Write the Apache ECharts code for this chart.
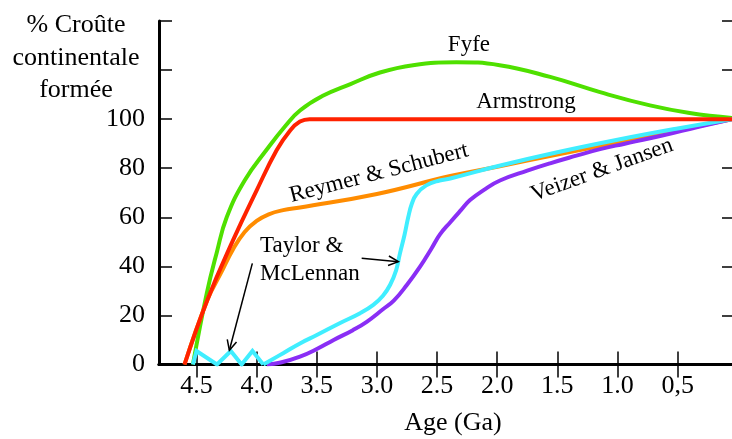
<!DOCTYPE html>
<html><head><meta charset="utf-8">
<script src="https://cdn.jsdelivr.net/npm/echarts@6/dist/echarts.min.js"></script>
<style>html,body{margin:0;padding:0;background:#fff}#c{width:732px;height:439px}</style>
</head><body><div id="c"></div>
<script>
// Tick positions and labels
const xTicks = [0.5, 1.0, 1.5, 2.0, 2.5, 3.0, 3.5, 4.0, 4.5];
const xTickLabels = ['0,5', '1.0', '1.5', '2.0', '2.5', '3.0', '3.5', '4.0', '4.5'];
const yTickLabels = [0, 20, 40, 60, 80, 100];

// Series: [age (Ga), % continental crust formed]
const fyfe = [[4.53,0],[4.415,29],[4.33,46],[4.249,60],[4.1,75],[3.916,87.6],[3.76,97.3],[3.64,103.5],[3.45,109.5],[3.22,114.3],[2.975,119],[2.7,122],[2.34,123.2],[1.98,122],[1.56,117.2],[1.145,111],[0.73,105.6],[0.4,102.5],[0.048,100.5]];
const armstrong = [[4.60,0],[4.41,26.3],[4.196,50.7],[4.0,71],[3.833,87.4],[3.72,95.5],[3.64,99],[3.56,100],[3.0,100],[2.0,100],[1.0,100],[0.048,100]];
const reymerSchubert = [[4.60,0],[4.41,26.3],[4.30,37],[4.196,47],[4.1,54],[4.0,58.5],[3.9,61.2],[3.78,62.9],[3.64,64],[3.0,69.5],[2.39,76.8],[2.0,80.6],[1.5,85.6],[1.0,90.5],[0.5,95.4],[0.048,100]];
const taylorZigzag = [[4.53,0],[4.50,5.5],[4.33,0],[4.215,5.5],[4.125,0],[4.035,5.5],[3.945,0]];
const taylorMcLennan = [[3.945,0],[3.78,4.6],[3.64,8.6],[3.5,12],[3.31,16.8],[3.14,20.9],[3.03,24.3],[2.95,28],[2.89,32.5],[2.84,38.5],[2.81,45],[2.77,53],[2.74,60],[2.71,65.5],[2.67,69.5],[2.59,73],[2.48,75],[2.39,75.8],[2.0,80.8],[1.5,86.5],[1.0,91.6],[0.5,96.2],[0.048,100]];
const veizerJansen = [[3.916,0],[3.8,0.8],[3.64,3.2],[3.5,6.3],[3.36,10],[3.2,14],[3.085,17.4],[2.95,22.5],[2.86,26],[2.75,32.5],[2.64,40],[2.55,47],[2.476,53],[2.39,58],[2.3,63],[2.226,67],[2.1,71.5],[1.977,75],[1.75,79],[1.56,82],[1.35,85],[1.145,87.8],[0.94,90],[0.73,92.2],[0.4,96],[0.048,100]];

const colors = {fyfe:'#4fe000', armstrong:'#ff2200', reymer:'#ff8c00', taylor:'#40eeff', veizer:'#8a2ef5'};
const FONT = 'Liberation Serif';

const chart = echarts.init(document.getElementById('c'), null, {renderer:'canvas'});
function line(name, data, color, z){
  return {type:'line', name, data, smooth:0.45, showSymbol:false, symbol:'none',
    lineStyle:{color, width:4}, z, xAxisIndex:0, yAxisIndex:0};
}
const axisLineStyle = {color:'#000', width:3};
chart.setOption({
  animation:false,
  backgroundColor:'#fff',
  textStyle:{fontFamily:FONT},
  grid:{left:159, top:21, right:0, bottom:74.5},
  xAxis:[
    {type:'value', min:0.048, max:4.812, inverse:true, position:'bottom',
     axisLine:{show:true, lineStyle:axisLineStyle},
     axisTick:{show:true, inside:true, length:13, lineStyle:{color:'#000', width:1.5}, customValues:xTicks},
     axisLabel:{show:true, customValues:xTicks, margin:9, fontFamily:FONT, fontSize:26, color:'#000',
       formatter:v=>{const i=xTicks.findIndex(t=>Math.abs(t-v)<1e-6); return i>=0?xTickLabels[i]:'';}},
     splitLine:{show:false}},
    {type:'value', min:0.048, max:4.812, inverse:true, position:'top',
     axisLine:{show:true, lineStyle:axisLineStyle},
     axisTick:{show:true, inside:true, length:13, lineStyle:{color:'#000', width:1.5}, customValues:xTicks},
     axisLabel:{show:false}, splitLine:{show:false}}
  ],
  yAxis:[
    {type:'value', min:0, max:140, interval:20, position:'left',
     axisLine:{show:true, lineStyle:axisLineStyle},
     axisTick:{show:true, inside:true, length:13, lineStyle:{color:'#000', width:1.5}},
     axisLabel:{show:true, margin:14, fontFamily:FONT, fontSize:26, color:'#000',
       formatter:v=>yTickLabels.indexOf(v)>=0?String(v):''},
     splitLine:{show:false}},
    {type:'value', min:0, max:140, interval:20, position:'right',
     axisLine:{show:false},
     axisTick:{show:true, inside:true, length:10, lineStyle:{color:'#000', width:1.5}},
     axisLabel:{show:false}, splitLine:{show:false}}
  ],
  series:[
    line('Fyfe', fyfe, colors.fyfe, 2),
    line('Reymer & Schubert', reymerSchubert, colors.reymer, 3),
    line('Veizer & Jansen', veizerJansen, colors.veizer, 4),
    {type:'line', name:'Taylor & McLennan (zigzag)', data:taylorZigzag, smooth:false, showSymbol:false, symbol:'none',
     lineStyle:{color:colors.taylor, width:4, join:'miter'}, z:5},
    line('Taylor & McLennan', taylorMcLennan, colors.taylor, 5),
    line('Armstrong', armstrong, colors.armstrong, 6)
  ]
});

// Annotations in data coordinates
const labels = [
  {text:'Fyfe', at:[2.235,130.4], rot:0, align:'center'},
  {text:'Armstrong', at:[1.761,107.2], rot:0, align:'center'},
  {text:'Reymer & Schubert', at:[2.983,78.0], rot:14.5, align:'center'},
  {text:'Veizer & Jansen', at:[1.129,79.3], rot:20, align:'center'},
  {text:'Taylor &', at:[3.972,48.5], rot:0, align:'left'},
  {text:'McLennan', at:[3.972,36.9], rot:0, align:'left'}
];
const arrows = [
  {from:[4.036,41.2], to:[4.227,5.8]},
  {from:[3.127,43.3], to:[2.822,41.9]}
];
const P = p => chart.convertToPixel({xAxisIndex:0, yAxisIndex:0}, p);
const g = [];
labels.forEach(l=>{
  const p = P(l.at);
  g.push({type:'text', x:p[0], y:p[1], rotation:l.rot*Math.PI/180, z:10,
    style:{text:l.text, fill:'#000', font:'23px "Liberation Serif"', fontSize:23, fontFamily:FONT, align:l.align, verticalAlign:'middle'}});
});
arrows.forEach(a=>{
  const s = P(a.from), t = P(a.to);
  const ang = Math.atan2(t[1]-s[1], t[0]-s[0]);
  const L = 11, da = 0.45;
  const h1 = [t[0]-L*Math.cos(ang-da), t[1]-L*Math.sin(ang-da)];
  const h2 = [t[0]-L*Math.cos(ang+da), t[1]-L*Math.sin(ang+da)];
  g.push({type:'line', z:10, shape:{x1:s[0],y1:s[1],x2:t[0],y2:t[1]}, style:{stroke:'#000', lineWidth:1.5}});
  g.push({type:'polyline', z:10, shape:{points:[h1,t,h2]}, style:{stroke:'#000', lineWidth:1.5, fill:null}});
});
g.push({type:'text', x:76, y:58, z:10, style:{text:'% Croûte\ncontinentale\nformée', fill:'#000',
  font:'26px "Liberation Serif"', fontSize:26, fontFamily:FONT, align:'center', verticalAlign:'middle', lineHeight:32.5}});
g.push({type:'text', x:453, y:423, z:10, style:{text:'Age (Ga)', fill:'#000',
  font:'26px "Liberation Serif"', fontSize:26, fontFamily:FONT, align:'center', verticalAlign:'middle'}});
chart.setOption({graphic:g});
</script>
</body></html>
